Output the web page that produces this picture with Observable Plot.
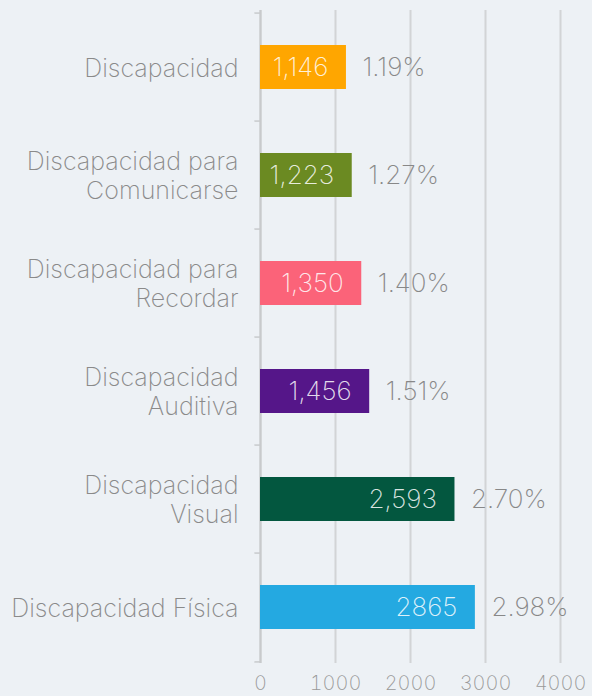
<!DOCTYPE html>
<html>
<head>
<meta charset="utf-8">
<script src="https://cdn.jsdelivr.net/npm/d3@7"></script>
<script src="https://cdn.jsdelivr.net/npm/@observablehq/plot@0.6"></script>
<style>
  html, body { margin: 0; padding: 0; background: #edf1f5; }
  #chart svg { display: block; }
</style>
</head>
<body>
<div id="chart"></div>
<script>
const categories = [
  "Discapacidad",
  "Discapacidad para\nComunicarse",
  "Discapacidad para\nRecordar",
  "Discapacidad\nAuditiva",
  "Discapacidad\nVisual",
  "Discapacidad Física"
];
const values = [1146, 1223, 1350, 1456, 2593, 2865];
const valueLabels = ["1,146", "1,223", "1,350", "1,456", "2,593", "2865"];
const percentLabels = ["1.19%", "1.27%", "1.40%", "1.51%", "2.70%", "2.98%"];
const colors = ["#ffa600", "#6b8a22", "#fb6379", "#551689", "#03573f", "#24a9e1"];
const xTicks = [0, 1000, 2000, 3000, 4000];

const data = categories.map((c, i) => ({
  category: c, value: values[i], vlabel: valueLabels[i], plabel: percentLabels[i], color: colors[i]
}));

const W = 592, H = 696, mt = 10, mb = 33, ml = 260, mr = 32;
const step = (H - mt - mb) / categories.length;
const font = "Inter, sans-serif";

const chart = Plot.plot({
  width: W, height: H,
  marginTop: mt, marginBottom: mb, marginLeft: ml, marginRight: mr,
  style: { background: "#edf1f5", fontFamily: font, fontWeight: 200 },
  x: { domain: [0, 4000] },
  y: { domain: categories, paddingInner: 0.596, paddingOuter: 0.298 },
  marks: [
    Plot.ruleX(xTicks, { x: d => d, stroke: "#d2d4d6", strokeWidth: 2 }),
    Plot.ruleX([0], { stroke: "#c8cacc", strokeWidth: 2 }),
    Plot.ruleY(categories, { y: d => d, x1: -75, x2: 0, dy: -step / 2, stroke: "#c8cacc", strokeWidth: 1.5 }),
    Plot.ruleY([categories[categories.length - 1]], { y: d => d, x1: -75, x2: 0, dy: step / 2, stroke: "#c8cacc", strokeWidth: 1.5 }),
    Plot.barX(data, { y: "category", x: "value", fill: "color" }),
    Plot.ruleX(data, { y: "category", x: "value", stroke: "#8a8a8a", strokeWidth: 1 }),
    Plot.text(data, { y: "category", x: "value", text: "vlabel", textAnchor: "end", dx: -18,
      fill: "white", fillOpacity: 0.85, fontSize: 26, fontWeight: 200 }),
    Plot.text(data, { y: "category", x: "value", text: "plabel", textAnchor: "start", dx: 16,
      fill: "#888", fontSize: 26, fontWeight: 200 }),
    Plot.axisY({ tickSize: 0, tickPadding: 22, fontSize: 25, fill: "#8a8a8a", label: null,
      lineHeight: 1.16, fontWeight: 200 }),
    Plot.axisX(xTicks, { tickSize: 0, tickPadding: 12, fontSize: 20, fill: "#999", label: null,
      tickFormat: d => String(d), fontWeight: 200 })
  ]
});
document.getElementById("chart").append(chart);
</script>
</body>
</html>
